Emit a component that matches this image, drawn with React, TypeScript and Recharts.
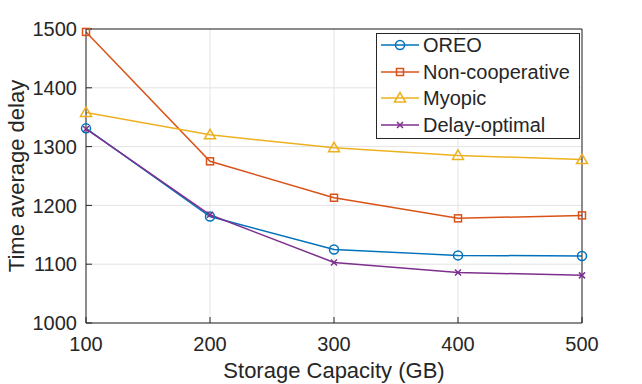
import { LineChart, Line, XAxis, YAxis, CartesianGrid, Label } from 'recharts';

const capacities = [100, 200, 300, 400, 500];
const oreo = [1331, 1181, 1125, 1115, 1114];
const nonCooperative = [1495, 1275, 1213, 1178, 1183];
const myopic = [1358, 1320, 1298, 1285, 1278];
const delayOptimal = [1330, 1184, 1103, 1086, 1081];
const xTicks = [100, 200, 300, 400, 500];
const yTicks = [1000, 1100, 1200, 1300, 1400, 1500];

const data = capacities.map((c, i) => ({
  capacity: c,
  oreo: oreo[i],
  nonCoop: nonCooperative[i],
  myopic: myopic[i],
  delayOpt: delayOptimal[i],
}));

const AXIS = '#262626';
const FONT = '"Liberation Sans", Arial, sans-serif';

type Kind = 'circle' | 'square' | 'triangle' | 'cross';

const series: { key: string; name: string; color: string; kind: Kind }[] = [
  { key: 'oreo', name: 'OREO', color: '#0072BD', kind: 'circle' },
  { key: 'nonCoop', name: 'Non-cooperative', color: '#D95319', kind: 'square' },
  { key: 'myopic', name: 'Myopic', color: '#EDB120', kind: 'triangle' },
  { key: 'delayOpt', name: 'Delay-optimal', color: '#7E2F8E', kind: 'cross' },
];

function Marker({ cx, cy, color, kind }: { cx: number; cy: number; color: string; kind: Kind }) {
  if (kind === 'circle') {
    return <circle cx={cx} cy={cy} r={4.5} fill="none" stroke={color} strokeWidth={1.5} />;
  }
  if (kind === 'square') {
    return <rect x={cx - 3.5} y={cy - 3.5} width={7} height={7} fill="none" stroke={color} strokeWidth={1.5} />;
  }
  if (kind === 'triangle') {
    return (
      <polygon
        points={`${cx},${cy - 5.5} ${cx - 5.5},${cy + 4} ${cx + 5.5},${cy + 4}`}
        fill="none"
        stroke={color}
        strokeWidth={1.5}
      />
    );
  }
  return (
    <path
      d={`M${cx - 3},${cy - 3}L${cx + 3},${cy + 3}M${cx - 3},${cy + 3}L${cx + 3},${cy - 3}`}
      stroke={color}
      strokeWidth={1.5}
    />
  );
}

function makeDot(color: string, kind: Kind) {
  return (props: any) => {
    const { cx, cy, index } = props;
    if (cx == null || cy == null) return <g key={index} />;
    return <Marker key={index} cx={cx} cy={cy} color={color} kind={kind} />;
  };
}

function LegendBox() {
  const rows = [45, 72, 98, 125];
  return (
    <svg width={642} height={384} style={{ position: 'absolute', left: 0, top: 0, pointerEvents: 'none' }}>
      <rect x={376.5} y={33.5} width={203} height={105} fill="#fff" stroke={AXIS} strokeWidth={1} />
      {series.map((s, i) => (
        <g key={s.key}>
          <line x1={381} x2={419} y1={rows[i]} y2={rows[i]} stroke={s.color} strokeWidth={1.5} />
          <Marker cx={400} cy={rows[i]} color={s.color} kind={s.kind} />
          <text x={423} y={rows[i] + 7} fontSize={20} fill={AXIS} fontFamily={FONT}>
            {s.name}
          </text>
        </g>
      ))}
    </svg>
  );
}

export default function App() {
  const tickStyle = { fill: AXIS, fontSize: 20, fontFamily: FONT };
  return (
    <div style={{ position: 'absolute', left: 0, top: 0, width: 642, height: 384, background: '#fff' }}>
      <LineChart width={642} height={384} data={data} margin={{ top: 0, right: 0, bottom: 0, left: 0 }}>
        <CartesianGrid stroke="#e3e3e3" strokeWidth={1} xAxisId="bottom" yAxisId="left" />
        <XAxis
          xAxisId="bottom"
          dataKey="capacity"
          type="number"
          domain={[100, 500]}
          ticks={xTicks}
          height={61}
          stroke={AXIS}
          tickSize={-6}
          tickMargin={20}
          tick={tickStyle}
          interval={0}
        >
          <Label
            value="Storage Capacity (GB)"
            position="insideBottom"
            offset={6}
            style={{ fill: AXIS, fontSize: 22, fontFamily: FONT }}
          />
        </XAxis>
        <XAxis
          xAxisId="top"
          orientation="top"
          dataKey="capacity"
          type="number"
          domain={[100, 500]}
          ticks={xTicks}
          height={29}
          stroke={AXIS}
          tickSize={-6}
          tick={false}
        />
        <YAxis
          yAxisId="left"
          domain={[1000, 1500]}
          ticks={yTicks}
          width={86}
          stroke={AXIS}
          tickSize={-6}
          tickMargin={15}
          tick={tickStyle}
          interval={0}
        >
          <Label
            value="Time average delay"
            angle={-90}
            position="insideLeft"
            offset={16}
            style={{ fill: AXIS, fontSize: 22, fontFamily: FONT, textAnchor: 'middle' }}
          />
        </YAxis>
        <YAxis
          yAxisId="right"
          orientation="right"
          domain={[1000, 1500]}
          ticks={yTicks}
          width={60}
          stroke={AXIS}
          tickSize={-6}
          tick={false}
        />
        {series.map((s) => (
          <Line
            key={s.key}
            xAxisId="bottom"
            yAxisId="left"
            dataKey={s.key}
            name={s.name}
            stroke={s.color}
            strokeWidth={1.5}
            type="linear"
            dot={makeDot(s.color, s.kind)}
            activeDot={false}
            isAnimationActive={false}
          />
        ))}
      </LineChart>
      <LegendBox />
    </div>
  );
}
